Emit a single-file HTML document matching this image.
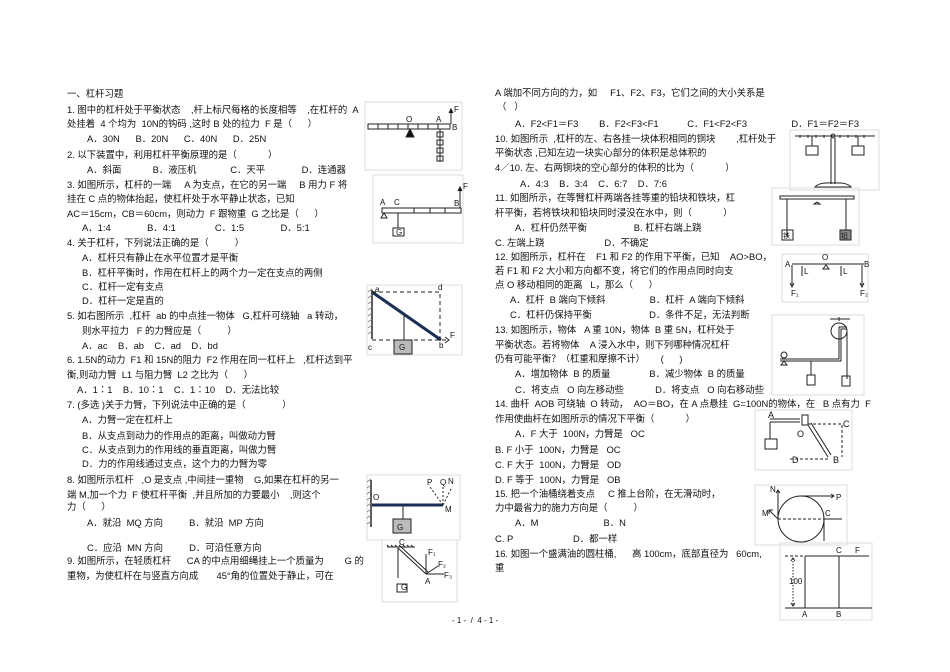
<!DOCTYPE html>
<html><head><meta charset="utf-8"><style>
body{margin:0;background:#fff;width:950px;height:672px;position:relative;overflow:hidden;font-family:"Liberation Sans","Noto Sans CJK SC",sans-serif;font-size:9.4px;color:#111}
.t{position:absolute;white-space:pre;line-height:11px}
svg{position:absolute;left:0;top:0}
</style></head><body>
<div class="t" style="left:67px;top:88px">一、杠杆习题</div>
<div class="t" style="left:67px;top:104px">1. 图中的杠杆处于平衡状态    ,杆上标尺每格的长度相等    ,在杠杆的  A</div>
<div class="t" style="left:67px;top:118px">处挂着  4 个均为  10N的钩码 ,这时 B 处的拉力  F 是（      ）</div>
<div class="t" style="left:87px;top:133px">A．30N      B．20N      C．40N      D．25N</div>
<div class="t" style="left:67px;top:149px">2. 以下装置中，利用杠杆平衡原理的是（            ）</div>
<div class="t" style="left:87px;top:164px">A．斜面            B．液压机             C．天平              D．连通器</div>
<div class="t" style="left:67px;top:179px">3. 如图所示，杠杆的一端     A 为支点，在它的另一端     B 用力 F 将</div>
<div class="t" style="left:67px;top:193px">挂在 C 点的物体抬起，使杠杆处于水平静止状态，已知</div>
<div class="t" style="left:67px;top:208px">AC＝15cm，CB＝60cm，则动力  F 跟物重  G 之比是（      ）</div>
<div class="t" style="left:82px;top:222px">A．1:4              B．4:1               C．1:5              D．5:1</div>
<div class="t" style="left:67px;top:237px">4. 关于杠杆，下列说法正确的是（          ）</div>
<div class="t" style="left:82px;top:252px">A．杠杆只有静止在水平位置才是平衡</div>
<div class="t" style="left:82px;top:267px">B．杠杆平衡时，作用在杠杆上的两个力一定在支点的两侧</div>
<div class="t" style="left:82px;top:281px">C．杠杆一定有支点</div>
<div class="t" style="left:82px;top:295px">D．杠杆一定是直的</div>
<div class="t" style="left:67px;top:310px">5. 如右图所示  ,杠杆  ab 的中点挂一物体   G,杠杆可绕轴   a 转动，</div>
<div class="t" style="left:82px;top:325px">则水平拉力   F 的力臂应是（          ）</div>
<div class="t" style="left:82px;top:340px">A．ac    B．ab    C．ad    D．bd</div>
<div class="t" style="left:67px;top:354px">6. 1.5N的动力  F1 和 15N的阻力  F2 作用在同一杠杆上   ,杠杆达到平</div>
<div class="t" style="left:67px;top:369px">衡,则动力臂  L1 与阻力臂  L2 之比为（      ）</div>
<div class="t" style="left:77px;top:384px">A．1∶1    B．10∶1    C．1∶10    D．无法比较</div>
<div class="t" style="left:67px;top:399px">7. (多选 )关于力臂，下列说法中正确的是（              ）</div>
<div class="t" style="left:82px;top:414px">A．力臂一定在杠杆上</div>
<div class="t" style="left:82px;top:430px">B．从支点到动力的作用点的距离，叫做动力臂</div>
<div class="t" style="left:82px;top:444px">C．从支点到力的作用线的垂直距离，叫做力臂</div>
<div class="t" style="left:82px;top:458px">D．力的作用线通过支点，这个力的力臂为零</div>
<div class="t" style="left:67px;top:474px">8. 如图所示杠杆   ,O 是支点 ,中间挂一重物    G,如果在杠杆的另一</div>
<div class="t" style="left:67px;top:489px">端 M,加一个力  F 使杠杆平衡  ,并且所加的力要最小    ,则这个</div>
<div class="t" style="left:67px;top:501px">力（      ）</div>
<div class="t" style="left:87px;top:517px">A．就沿  MQ 方向          B．就沿  MP 方向</div>
<div class="t" style="left:87px;top:542px">C．应沿  MN 方向          D．可沿任意方向</div>
<div class="t" style="left:67px;top:555px">9. 如图所示，在轻质杠杆      CA 的中点用细绳挂上一个质量为        G 的</div>
<div class="t" style="left:67px;top:570px">重物，为使杠杆在与竖直方向成       45°角的位置处于静止，可在</div>

<div class="t" style="left:495px;top:87px">A 端加不同方向的力，如     F1、F2、F3，它们之间的大小关系是</div>
<div class="t" style="left:497px;top:101px">（   ）</div>
<div class="t" style="left:515px;top:118px">A．F2&lt;F1＝F3        B．F2&lt;F3&lt;F1           C．F1&lt;F2&lt;F3                 D．F1＝F2＝F3</div>
<div class="t" style="left:495px;top:133px">10. 如图所示  ,杠杆的左、右各挂一块体积相同的铜块        ,杠杆处于</div>
<div class="t" style="left:495px;top:147px">平衡状态 ,已知左边一块实心部分的体积是总体积的</div>
<div class="t" style="left:495px;top:162px">4／10. 左、右两铜块的空心部分的体积的比为（            ）</div>
<div class="t" style="left:520px;top:178px">A．4:3    B．3:4    C．6:7    D．7:6</div>
<div class="t" style="left:495px;top:192px">11. 如图所示，在等臂杠杆两端各挂等重的铅块和铁块，杠</div>
<div class="t" style="left:495px;top:207px">杆平衡，若将铁块和铅块同时浸没在水中，则（            ）</div>
<div class="t" style="left:515px;top:222px">A．杠杆仍然平衡                  B. 杠杆右端上跷</div>
<div class="t" style="left:495px;top:237px">C. 左端上跷                       D．不确定</div>
<div class="t" style="left:495px;top:251px">12. 如图所示，杠杆在    F1 和 F2 的作用下平衡，已知    AO>BO，</div>
<div class="t" style="left:495px;top:265px">若 F1 和 F2 大小和方向都不变，将它们的作用点同时向支</div>
<div class="t" style="left:495px;top:279px">点 O 移动相同的距离   L，那么（      ）</div>
<div class="t" style="left:510px;top:294px">A．杠杆  B 端向下倾斜                 B．杠杆  A 端向下倾斜</div>
<div class="t" style="left:510px;top:309px">C．杠杆仍保持平衡                      D．条件不足，无法判断</div>
<div class="t" style="left:495px;top:324px">13. 如图所示，物体   A 重 10N，物体  B 重 5N，杠杆处于</div>
<div class="t" style="left:495px;top:339px">平衡状态。若将物体    A 浸入水中，则下列哪种情况杠杆</div>
<div class="t" style="left:495px;top:353px">仍有可能平衡？（杠重和摩擦不计）      (      )</div>
<div class="t" style="left:515px;top:368px">A．增加物体  B 的质量               B．减少物体  B 的质量</div>
<div class="t" style="left:515px;top:384px">C．将支点   O 向左移动些            D．将支点   O 向右移动些</div>
<div class="t" style="left:495px;top:398px">14. 曲杆  AOB 可绕轴  O 转动，  AO＝BO，在 A 点悬挂  G=100N的物体，在   B 点有力  F</div>
<div class="t" style="left:495px;top:413px">作用使曲杆在如图所示的情况下平衡（            ）</div>
<div class="t" style="left:515px;top:428px">A．F 大于  100N，力臂是   OC</div>
<div class="t" style="left:495px;top:444px">B. F 小于  100N，力臂是   OC</div>
<div class="t" style="left:495px;top:459px">C. F 大于  100N，力臂是   OD</div>
<div class="t" style="left:495px;top:474px">D. F 等于  100N，力臂是   OB</div>
<div class="t" style="left:495px;top:488px">15. 把一个油桶绕着支点     C 推上台阶，在无滑动时，</div>
<div class="t" style="left:495px;top:502px">力中最省力的施力方向是（          ）</div>
<div class="t" style="left:515px;top:517px">A．M                         B．N</div>
<div class="t" style="left:495px;top:533px">C. P                       D．都一样</div>
<div class="t" style="left:495px;top:548px">16. 如图一个盛满油的圆柱桶,      高 100cm，底部直径为   60cm,</div>
<div class="t" style="left:495px;top:562px">重</div>
<div class="t" style="left:452px;top:615px;font-size:8px">- 1 -  /  4 - 1 -</div>

<svg width="950" height="672" font-family="Liberation Sans" font-size="8" stroke="#222" fill="none">
<rect x="365" y="102" width="97" height="68" stroke="#ddd"/>
<rect x="368" y="124" width="82" height="5"/>
<path d="M378 124v5M388 124v5M398 124v5M408 124v5M418 124v5M428 124v5M438 124v5"/>
<path d="M410 129l-4 8h8z" fill="#111"/>
<path d="M440 129v33M451 124v-14" /><path d="M449 113l2-4 2 4" fill="#111"/>
<rect x="437" y="132" width="6" height="5"/><rect x="437" y="140" width="6" height="5"/><rect x="437" y="148" width="6" height="5"/><rect x="437" y="156" width="6" height="5"/>
<g fill="#111" stroke="none"><text x="406" y="122">O</text><text x="436" y="122">A</text><text x="452" y="130">B</text><text x="454" y="112">F</text></g>
<rect x="373" y="175" width="90" height="68" stroke="#ddd"/>
<rect x="382" y="208" width="79" height="5"/>
<path d="M414 208v5M430 208v5M445 208v5"/>
<path d="M384 213l-3 5h6z"/><path d="M398 213v15M460 208v-20"/><path d="M458 191l2-4 2 4" fill="#111"/>
<rect x="393" y="228" width="11" height="8"/>
<g fill="#111" stroke="none"><text x="380" y="205">A</text><text x="394" y="205">C</text><text x="454" y="206">B</text><text x="463" y="189">F</text><text x="396" y="235">G</text></g>
<rect x="367" y="285" width="95" height="70" stroke="#ddd"/>
<path d="M372 290v49" stroke-width="1.5"/><path d="M368 292l4-3M368 298l4-3M368 304l4-3M368 310l4-3M368 316l4-3M368 322l4-3M368 328l4-3M368 334l4-3" stroke="#888"/>
<path d="M372 292L441 340" stroke="#1a2f55" stroke-width="3"/>
<path d="M372 292h68v48M372 340h75" stroke-dasharray="4,3"/>
<path d="M404 314v26"/><rect x="394" y="340" width="18" height="14" fill="#bbb"/>
<path d="M445 337l4 3-4 3"/>
<g fill="#111" stroke="none"><text x="375" y="292">a</text><text x="438" y="290">d</text><text x="368" y="350">c</text><text x="439" y="348">b</text><text x="450" y="338">F</text><text x="399" y="350">G</text></g>
<rect x="367" y="475" width="93" height="65" stroke="#ddd"/>
<path d="M371 480v47" stroke-width="1.5"/><path d="M367 482l4-3M367 488l4-3M367 494l4-3M367 500l4-3M367 506l4-3M367 512l4-3M367 518l4-3M367 524l4-3" stroke="#888"/>
<path d="M372 505h71" stroke="#1a2f55" stroke-width="3"/>
<path d="M403 505v14"/><rect x="393" y="519" width="18" height="14" fill="#bbb"/>
<path d="M443 505L430 487M443 505v-18M443 505L452 487" stroke-dasharray="2,2"/>
<g fill="#111" stroke="none"><text x="373" y="500">O</text><text x="445" y="512">M</text><text x="427" y="485">P</text><text x="440" y="485">Q</text><text x="448" y="484">N</text><text x="397" y="530">G</text></g>
<rect x="382" y="540" width="75" height="62" stroke="#ddd"/>
<path d="M387 547h28"/><path d="M389 547l-2-2M393 547l-2-2M397 547l-2-2M401 547l-2-2M405 547l-2-2M409 547l-2-2M413 547l-2-2"/>
<path d="M398 548l28 26M400 546l28 26"/><path d="M398 548v30"/><path d="M426 574v-20M426 574l12-8M426 574h18" />
<rect x="397" y="584" width="10" height="8"/>
<g fill="#111" stroke="none"><text x="399" y="545">C</text><text x="425" y="584">A</text><text x="401" y="590">G</text><text x="428" y="555">F₁</text><text x="438" y="567">F₂</text><text x="444" y="578">F₃</text></g>
<rect x="790" y="130" width="89" height="60" stroke="#ddd"/>
<path d="M795 136h80M800 135v3M808 135v3M816 135v3M824 135v3M832 135v3M840 135v3M848 135v3M856 135v3M864 135v3"/>
<circle cx="833" cy="136" r="2"/>
<path d="M831 138v46M835 138v46M812 136v10M858 136v10"/><rect x="806" y="146" width="12" height="9"/><rect x="852" y="146" width="12" height="9"/>
<path d="M815 187q4-5 18-4q14-1 18 4z"/>
<rect x="772" y="188" width="87" height="57" stroke="#ddd"/>
<rect x="780" y="196" width="74" height="3"/><path d="M817 202l-3 2h6z"/>
<path d="M787 199v38M846 199v38"/><rect x="782" y="230" width="11" height="10"/><rect x="840" y="230" width="11" height="10" fill="#888"/>
<g fill="#111" stroke="none" font-size="7"><text x="783" y="238">铁</text><text x="841" y="238">铅</text></g>
<rect x="782" y="254" width="86" height="48" stroke="#ddd"/>
<path d="M792 264h72M792 265v20M862 265v20M802 266v10M841 266v10" /><path d="M790 283l2 4 2-4M860 283l2 4 2-4"/><path d="M826 265l-3 4h6z"/>
<g fill="#111" stroke="none"><text x="785" y="267">A</text><text x="864" y="267">B</text><text x="822" y="260">O</text><text x="804" y="274">L</text><text x="843" y="274">L</text><text x="791" y="296">F₁</text><text x="860" y="296">F₂</text></g>
<rect x="772" y="315" width="92" height="80" stroke="#ddd"/>
<path d="M780 359h59v-32h8"/><path d="M780 361h61v-32h6" />
<circle cx="839" cy="331" r="8"/><path d="M839 321v-4M830 319h20"/><path d="M847 331v48"/><rect x="842" y="376" width="8" height="10"/>
<circle cx="784" cy="355" r="3"/><path d="M784 361l-3 4h6z"/>
<path d="M811 361v14"/><rect x="807" y="375" width="8" height="10"/>
<rect x="755" y="410" width="97" height="60" stroke="#ddd"/>
<path d="M770 419h30M770 422h30"/><path d="M770 422v17"/><rect x="765" y="439" width="12" height="10"/>
<rect x="802" y="415" width="6" height="10"/><path d="M808 425l20 32M811 423l20 32"/>
<path d="M808 424h34v33M790 459h40" stroke-dasharray="3,2"/>
<g fill="#111" stroke="none" font-size="9"><text x="768" y="418">A</text><text x="797" y="437">O</text><text x="843" y="427">C</text><text x="792" y="463">D</text><text x="833" y="463">B</text></g>
<rect x="755" y="485" width="92" height="60" stroke="#ddd"/>
<circle cx="801" cy="519" r="23"/>
<path d="M778 519h56" stroke-dasharray="3,2"/>
<path d="M824 519h18M824 519v22M800 496h33M778 519l-9-9M778 519v-29"/>
<path d="M831 494l3 2-3 2M776 493l2-3 2 3M769 514v-4h4"/>
<g fill="#111" stroke="none"><text x="770" y="492">N</text><text x="762" y="516">M</text><text x="836" y="500">P</text><text x="825" y="516">C</text></g>
<rect x="780" y="543" width="92" height="77" stroke="#ddd"/>
<path d="M785 608h87M805 556v52M839 556v52M805 556h64"/>
<path d="M785 556h20" stroke-dasharray="3,2"/>
<path d="M793 558v48" stroke-dasharray="1.5,1.5"/><path d="M791 561l2-3 2 3M791 603l2 3 2-3"/>
<g fill="#111" stroke="none"><text x="789" y="584">100</text><text x="802" y="617">A</text><text x="836" y="617">B</text><text x="836" y="553">C</text><text x="855" y="553">F</text></g>
</svg>
</body></html>
